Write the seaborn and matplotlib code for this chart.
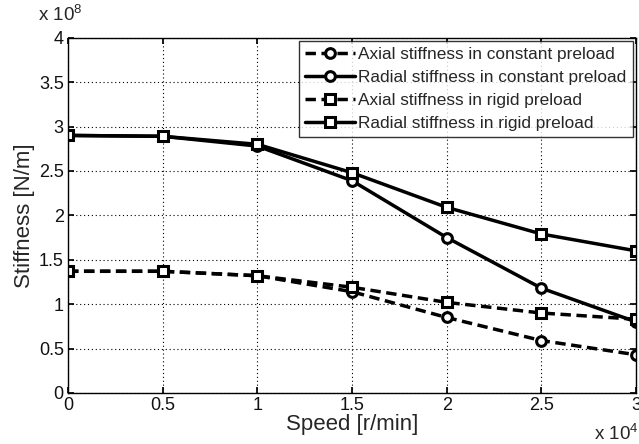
import matplotlib
matplotlib.use("Agg")
import matplotlib.pyplot as plt
import seaborn as sns
import pandas as pd

# speed in r/min, stiffness in N/m
speed = [0, 5000, 10000, 15000, 20000, 25000, 30000]
axial_constant = [1.37e8, 1.37e8, 1.32e8, 1.14e8, 0.85e8, 0.59e8, 0.43e8]
radial_constant = [2.90e8, 2.89e8, 2.78e8, 2.39e8, 1.75e8, 1.18e8, 0.80e8]
axial_rigid = [1.37e8, 1.37e8, 1.32e8, 1.19e8, 1.02e8, 0.90e8, 0.83e8]
radial_rigid = [2.90e8, 2.89e8, 2.80e8, 2.48e8, 2.09e8, 1.79e8, 1.60e8]

labels = ["Axial stiffness in constant preload",
          "Radial stiffness in constant preload",
          "Axial stiffness in rigid preload",
          "Radial stiffness in rigid preload"]
series = [axial_constant, radial_constant, axial_rigid, radial_rigid]
markers = ["o", "o", "s", "s"]
dashed = [True, False, True, False]

sns.set_theme(style="ticks")
plt.rcParams["font.family"] = ["Liberation Sans", "DejaVu Sans"]
plt.rcParams["mathtext.fontset"] = "custom"
plt.rcParams["mathtext.rm"] = "Liberation Sans"

fig = plt.figure(figsize=(6.39, 4.44), dpi=100)
ax = fig.add_axes([0.1064, 0.115, 0.889, 0.800])

for vals, lab, mk, dsh in zip(series, labels, markers, dashed):
    df = pd.DataFrame({"x": [s / 1e4 for s in speed], "y": [v / 1e8 for v in vals]})
    sns.lineplot(data=df, x="x", y="y", ax=ax, color="black", lw=2.5,
                 linestyle=(0, (4.5, 2.2)) if dsh else "-",
                 marker=mk, markersize=7, markerfacecolor="white",
                 markeredgecolor="black", markeredgewidth=2.2, label=lab)

ax.set_xlim(0, 3)
ax.set_ylim(0, 4)
ax.set_xticks([0, 0.5, 1, 1.5, 2, 2.5, 3])
ax.set_xticklabels(["0", "0.5", "1", "1.5", "2", "2.5", "3"])
ax.set_yticks([0, 0.5, 1, 1.5, 2, 2.5, 3, 3.5, 4])
ax.set_yticklabels(["0", "0.5", "1", "1.5", "2", "2.5", "3", "3.5", "4"])
ax.grid(True, color="black", linestyle=(0, (1, 2.5)), linewidth=0.8)
ax.tick_params(direction="in", top=True, right=True, labelsize=13, length=4,
               color="black", labelcolor="#111111", pad=3)
for sp in ax.spines.values():
    sp.set_color("black")
    sp.set_linewidth(1)

ax.set_xlabel("Speed [r/min]", fontsize=16, labelpad=0)
ax.set_ylabel("Stiffness [N/m]", fontsize=16, labelpad=3)

ax.text(-0.053, 1.035, r"x 10$^{8}$", transform=ax.transAxes, fontsize=13.5, ha="left", va="bottom")
fig.text(0.999, 0.0, r"x 10$^{4}$", fontsize=13.5, ha="right", va="bottom")

handles, _ = ax.get_legend_handles_labels()
for h, dsh in zip(handles, dashed):
    h.set_linestyle((0, (3, 1.6)) if dsh else "-")
leg = ax.legend(handles, labels, loc="upper right", fontsize=12.4, frameon=True, fancybox=False,
                edgecolor="black", handlelength=2.9, borderaxespad=0.2,
                labelspacing=0.45, borderpad=0.35, handletextpad=0.2)
leg.get_frame().set_linewidth(1)

fig.savefig("out.png", dpi=100)
